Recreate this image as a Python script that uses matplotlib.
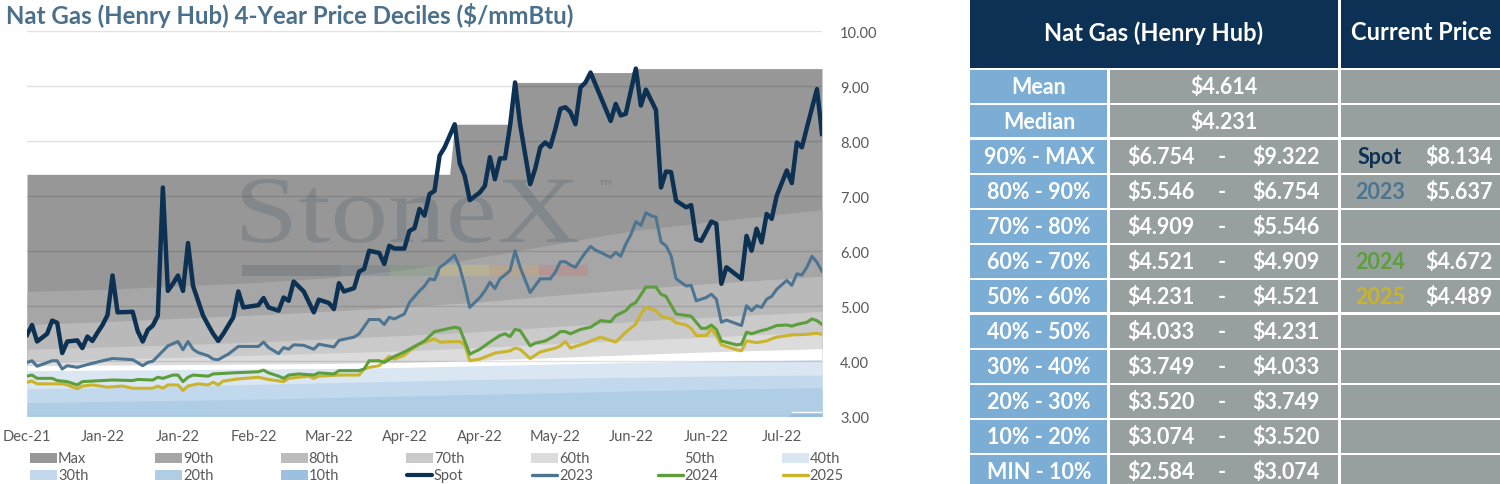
import matplotlib
matplotlib.use('Agg')
import matplotlib.pyplot as plt
from matplotlib.patches import Rectangle, PathPatch
from matplotlib.textpath import TextPath
from matplotlib.font_manager import FontProperties
from matplotlib.transforms import Affine2D
from matplotlib.lines import Line2D

plt.rcParams['font.family'] = ['Lato', 'DejaVu Sans']

# ---------------- data ----------------
TITLE = 'Nat Gas (Henry Hub) 4-Year Price Deciles ($/mmBtu)'
X_LABELS = ['Dec-21', 'Jan-22', 'Jan-22', 'Feb-22', 'Mar-22', 'Apr-22',
            'Apr-22', 'May-22', 'Jun-22', 'Jun-22', 'Jul-22']
TICK_STEP = 15
LAST_DAY = 158
Y_TICKS = [3, 4, 5, 6, 7, 8, 9, 10]

SPOT_IDX = [0, 1, 2, 4, 5, 6, 7, 8, 10, 11, 12, 13, 14, 15, 16, 17, 18, 21, 22, 23,
            24, 25, 26, 27, 28, 29, 30, 31, 32, 33, 34, 35, 36, 37, 38, 39, 40, 41, 42, 43,
            46, 47, 48, 50, 51, 52, 53, 55, 57, 58, 60, 61, 62, 63, 65, 66, 67, 68, 70, 71,
            72, 73, 75, 76, 77, 78, 79, 80, 81, 82, 83, 85, 86, 87, 88, 90, 91, 92, 93, 94,
            95, 96, 97, 98, 100, 101, 102, 103, 104, 105, 106, 107, 108, 109, 110, 111, 112,
            116, 117, 118, 119, 121, 122, 123, 125, 126, 127, 128, 129, 131, 132, 133, 134,
            136, 137, 138, 139, 142, 143, 144, 145, 146, 147, 148, 149, 151, 152, 153, 154,
            155, 156, 157, 158]
SPOT_VAL = [4.48, 4.66, 4.36, 4.50, 4.74, 4.70, 4.15, 4.36, 4.38, 4.24, 4.45, 4.37, 4.52,
            4.66, 4.84, 5.56, 4.89, 4.90, 4.55, 4.36, 4.57, 4.65, 4.83, 7.16, 5.28, 5.41,
            5.56, 5.28, 6.15, 5.37, 5.10, 4.83, 4.66, 4.50, 4.37, 4.50, 4.65, 4.80, 5.27,
            4.98, 5.02, 5.15, 4.98, 4.92, 5.16, 5.10, 5.45, 5.27, 4.89, 5.12, 5.06, 4.95,
            5.42, 5.27, 5.33, 5.63, 5.68, 6.01, 5.97, 5.77, 6.10, 6.05, 6.05, 6.37, 6.42,
            6.77, 6.65, 7.04, 7.10, 7.74, 7.89, 8.31, 7.60, 7.37, 6.93, 7.07, 7.19, 7.71,
            7.31, 7.69, 7.69, 8.28, 9.07, 8.31, 7.22, 7.50, 7.89, 7.98, 7.90, 8.22, 8.59,
            8.62, 8.53, 8.31, 8.98, 9.07, 9.25, 8.37, 8.68, 8.47, 8.50, 9.322, 8.65, 8.94,
            8.57, 7.16, 7.45, 7.44, 6.92, 6.80, 6.84, 6.22, 6.19, 6.54, 6.50, 5.41, 5.71,
            5.50, 6.28, 6.01, 6.41, 6.16, 6.68, 6.59, 7.01, 7.47, 7.24, 7.98, 7.89, 8.25,
            8.60, 8.95, 8.134]

Y2023_IDX = [0, 1, 2, 5, 6, 7, 8, 10, 12, 15, 17, 21, 23, 24, 25, 28, 30, 31, 32, 33,
             34, 36, 37, 38, 40, 42, 46, 47, 48, 50, 51, 52, 53, 55, 57, 58, 61, 62, 65, 66,
             68, 70, 71, 72, 73, 75, 76, 78, 79, 80, 81, 82, 83, 85, 86, 87, 88, 90, 91, 92,
             93, 94, 95, 96, 97, 98, 100, 102, 104, 105, 106, 107, 108, 109, 110, 111, 112,
             113, 114, 116, 117, 118, 119, 120, 121, 122, 123, 124, 125, 126, 127, 128, 129,
             131, 132, 133, 135, 136, 137, 138, 139, 142, 143, 144, 145, 146, 147, 148, 149,
             151, 152, 153, 154, 155, 156, 157, 158]
Y2023_VAL = [3.98, 4.01, 3.91, 4.01, 4.01, 3.86, 3.92, 3.89, 3.94, 4.01, 4.05, 4.03, 3.92,
             3.98, 4.00, 4.28, 4.36, 4.21, 4.36, 4.22, 4.16, 4.10, 4.04, 4.03, 4.13, 4.27,
             4.27, 4.35, 4.25, 4.14, 4.25, 4.22, 4.30, 4.29, 4.22, 4.31, 4.26, 4.38, 4.44,
             4.50, 4.76, 4.76, 4.67, 4.80, 4.77, 4.86, 5.07, 5.28, 5.37, 5.50, 5.48, 5.71,
             5.77, 5.93, 5.71, 5.37, 4.98, 5.16, 5.28, 5.44, 5.32, 5.50, 5.57, 5.65, 6.01,
             5.71, 5.25, 5.50, 5.50, 5.62, 5.81, 5.81, 5.75, 5.71, 5.85, 5.98, 6.09, 6.02,
             5.98, 5.89, 5.98, 5.91, 6.13, 6.30, 6.54, 6.47, 6.70, 6.65, 6.62, 6.17, 6.10,
             5.92, 5.50, 5.37, 5.38, 5.10, 5.16, 5.22, 5.13, 4.71, 4.75, 4.65, 5.01, 4.92,
             5.01, 4.98, 5.13, 5.18, 5.31, 5.47, 5.38, 5.59, 5.57, 5.71, 5.91, 5.80, 5.637]

Y2024_IDX = [0, 1, 2, 5, 6, 8, 10, 11, 15, 17, 21, 22, 25, 26, 27, 29, 30, 31, 32, 33,
             36, 37, 41, 46, 47, 48, 50, 51, 52, 54, 57, 58, 61, 62, 66, 67, 68, 70, 71, 73,
             75, 76, 79, 81, 85, 86, 88, 90, 92, 94, 95, 96, 97, 98, 100, 101, 103, 105, 106,
             107, 108, 110, 112, 113, 114, 116, 117, 119, 120, 121, 123, 125, 126, 127, 129,
             132, 134, 135, 136, 137, 138, 141, 142, 143, 144, 146, 147, 149, 151, 152, 153,
             155, 156, 157, 158]
Y2024_VAL = [3.73, 3.75, 3.69, 3.69, 3.65, 3.63, 3.57, 3.63, 3.65, 3.66, 3.65, 3.67, 3.66,
             3.71, 3.69, 3.75, 3.75, 3.63, 3.71, 3.75, 3.73, 3.77, 3.79, 3.81, 3.84, 3.79,
             3.73, 3.69, 3.75, 3.77, 3.75, 3.79, 3.77, 3.83, 3.83, 3.86, 4.01, 4.01, 3.98,
             4.09, 4.17, 4.22, 4.37, 4.54, 4.62, 4.60, 4.13, 4.22, 4.35, 4.47, 4.50, 4.45,
             4.58, 4.56, 4.28, 4.33, 4.37, 4.47, 4.54, 4.54, 4.50, 4.58, 4.62, 4.68, 4.74,
             4.72, 4.83, 4.92, 5.02, 5.07, 5.35, 5.35, 5.22, 5.18, 4.86, 4.82, 4.60, 4.60,
             4.66, 4.58, 4.37, 4.30, 4.31, 4.53, 4.50, 4.56, 4.58, 4.65, 4.66, 4.64, 4.67,
             4.71, 4.77, 4.74, 4.672]

Y2025_IDX = [0, 1, 2, 7, 8, 10, 11, 13, 16, 19, 21, 25, 26, 27, 28, 30, 31, 32, 34, 36,
             37, 38, 39, 42, 46, 48, 51, 52, 56, 57, 58, 62, 66, 67, 68, 70, 71, 72, 73, 75,
             76, 78, 81, 82, 86, 87, 88, 90, 93, 96, 97, 98, 100, 102, 105, 106, 107, 108,
             111, 114, 117, 119, 121, 122, 123, 125, 126, 128, 129, 131, 132, 133, 135, 136,
             137, 138, 141, 142, 143, 145, 147, 148, 149, 152, 155, 157, 158]
Y2025_VAL = [3.62, 3.64, 3.59, 3.59, 3.57, 3.50, 3.55, 3.57, 3.53, 3.55, 3.51, 3.51, 3.55,
             3.51, 3.57, 3.57, 3.47, 3.55, 3.59, 3.57, 3.62, 3.57, 3.64, 3.68, 3.71, 3.67,
             3.63, 3.69, 3.73, 3.69, 3.73, 3.75, 3.75, 3.86, 3.89, 3.92, 4.01, 4.09, 4.04,
             4.11, 4.19, 4.31, 4.41, 4.35, 4.36, 4.30, 4.01, 4.04, 4.15, 4.19, 4.24, 4.22,
             4.05, 4.17, 4.24, 4.28, 4.36, 4.24, 4.33, 4.44, 4.35, 4.53, 4.68, 4.86, 4.98,
             4.92, 4.82, 4.77, 4.70, 4.66, 4.60, 4.47, 4.47, 4.59, 4.47, 4.30, 4.21, 4.19,
             4.37, 4.34, 4.37, 4.41, 4.44, 4.48, 4.49, 4.51, 4.489]

MAX_IDX = [0, 84, 85, 96, 97, 111, 112, 120, 121, 158]
MAX_VAL = [7.40, 7.40, 8.31, 8.31, 9.07, 9.07, 9.25, 9.25, 9.322, 9.322]
BAND_IDX = [0, 15, 30, 45, 60, 75, 90, 105, 120, 135, 150, 158]
P90 = [5.27, 5.31, 5.37, 5.43, 5.52, 5.66, 5.89, 6.13, 6.37, 6.53, 6.68, 6.754]
P80 = [4.67, 4.72, 4.78, 4.84, 4.91, 4.99, 5.08, 5.20, 5.31, 5.41, 5.50, 5.546]
P70 = [4.22, 4.26, 4.30, 4.35, 4.41, 4.47, 4.54, 4.63, 4.72, 4.80, 4.87, 4.909]
P60 = [4.01, 4.04, 4.07, 4.11, 4.15, 4.19, 4.25, 4.32, 4.38, 4.44, 4.50, 4.521]
P50 = [3.92, 3.93, 3.94, 3.95, 3.96, 3.98, 4.02, 4.07, 4.12, 4.17, 4.21, 4.231]
P40 = [3.83, 3.84, 3.85, 3.86, 3.87, 3.89, 3.92, 3.95, 3.98, 4.00, 4.02, 4.033]
P30 = [3.50, 3.52, 3.55, 3.58, 3.61, 3.64, 3.67, 3.69, 3.71, 3.73, 3.745, 3.749]
P20 = [3.25, 3.27, 3.29, 3.31, 3.34, 3.37, 3.40, 3.43, 3.46, 3.49, 3.51, 3.52]
P10_IDX = [0, 151, 152, 158]
P10_VAL = [2.90, 2.95, 3.074, 3.074]

# table
TABLE_TITLE = 'Nat Gas (Henry Hub)'
CURRENT_TITLE = 'Current Price'
ROW_LABELS = ['Mean', 'Median', '90% - MAX', '80% - 90%', '70% - 80%', '60% - 70%',
              '50% - 60%', '40% - 50%', '30% - 40%', '20% - 30%', '10% - 20%', 'MIN - 10%']
MEAN = 4.614
MEDIAN = 4.231
DECILE_LOW = [6.754, 5.546, 4.909, 4.521, 4.231, 4.033, 3.749, 3.520, 3.074, 2.584]
DECILE_HIGH = [9.322, 6.754, 5.546, 4.909, 4.521, 4.231, 4.033, 3.749, 3.520, 3.074]
CURRENT_NAMES = ['Spot', '2023', '2024', '2025']
CURRENT_VALS = [8.134, 5.637, 4.672, 4.489]
CURRENT_ROWS = [2, 3, 5, 6]

# ---------------- styles ----------------
C_SPOT = '#0d3152'
C_2023 = '#4d7592'
C_2024 = '#5c9e3b'
C_2025 = '#c9b42c'
BAND_COLORS = {'Max': '#979797', '90th': '#a6a6a6', '80th': '#b9b9b9', '70th': '#cacaca',
               '60th': '#dcdcdc', '50th': '#ffffff', '40th': '#dae6f2', '30th': '#c2d9ed',
               '20th': '#b0cde6', '10th': '#9bc0e0'}
TXT = '#595959'
HDR = '#0c3154'
BLUE = '#7badd5'
GRAY = '#98a09f'

W, H = 1500, 485
fig = plt.figure(figsize=(15, 4.85), dpi=100)
fig.patch.set_facecolor('white')

# plot area in pixels: x 27..822, y 32.3..417.3
ax = fig.add_axes([27 / W, (H - 417.3) / H, 795 / W, 385 / H])
ax.set_xlim(0, LAST_DAY)
ax.set_ylim(3, 10)

# overlay axes in pixel coordinates (y downward)
ov = fig.add_axes([0, 0, 1, 1], zorder=-1)
ov.set_xlim(0, W)
ov.set_ylim(H, 0)
ov.axis('off')
ov.patch.set_alpha(0)

BASE = 2.0
ax.fill_between(MAX_IDX, BASE, MAX_VAL, color=BAND_COLORS['Max'], lw=0, zorder=1)
for vals, key in [(P90, '90th'), (P80, '80th'), (P70, '70th'), (P60, '60th'),
                  (P50, '50th'), (P40, '40th'), (P30, '30th'), (P20, '20th')]:
    ax.fill_between(BAND_IDX, BASE, vals, color=BAND_COLORS[key], lw=0, zorder=1)
ax.fill_between(P10_IDX, BASE, P10_VAL, color=BAND_COLORS['10th'], lw=0, zorder=1)
ax.plot(P10_IDX[2:], P10_VAL[2:], color='white', lw=1.0, zorder=1.1)

# watermark (behind the lines)
fp = FontProperties(family='Liberation Serif')
tp = TextPath((0, 0), 'StoneX', size=100, prop=fp)
ext = tp.get_extents()
sx = (578 - 242) / (ext.x1 - ext.x0)
sy = (243 - 180) / ext.y1
tr = Affine2D().translate(-ext.x0, 0).scale(sx, -sy).translate(242, 243)
ax.add_patch(PathPatch(tp, transform=tr + ov.transData, facecolor='#5f6d7a',
                       edgecolor='none', alpha=0.38, zorder=2, clip_on=False))
ax.text(596, 188, '\u2122', transform=ov.transData, fontsize=13, color='#7d8388',
        va='center', ha='left', zorder=2, family='DejaVu Sans')
bar_cols = ['#4d5a66', '#4d5a66', '#607384', '#6f9a6a', '#e6d36a', '#e9a45c', '#d26a6a']
seg_w = (588 - 242) / len(bar_cols)
for k, c in enumerate(bar_cols):
    ax.add_patch(Rectangle((242 + k * seg_w, 266), seg_w, 11, transform=ov.transData,
                           facecolor=c, edgecolor='none', alpha=0.28, zorder=2,
                           clip_on=False))

# grid
ax.set_axisbelow(False)
ax.grid(axis='y', color='black', alpha=0.12, lw=1.0)
ax.grid(axis='x', visible=False)

# lines
ax.plot(Y2025_IDX, Y2025_VAL, color=C_2025, lw=2.2, zorder=4, solid_joinstyle='round')
ax.plot(Y2024_IDX, Y2024_VAL, color=C_2024, lw=2.2, zorder=4.1, solid_joinstyle='round')
ax.plot(Y2023_IDX, Y2023_VAL, color=C_2023, lw=2.2, zorder=4.2, solid_joinstyle='round')
ax.plot(SPOT_IDX, SPOT_VAL, color=C_SPOT, lw=3.2, zorder=5, solid_joinstyle='round')

for s in ax.spines.values():
    s.set_visible(False)
ax.yaxis.tick_right()
ax.set_yticks(Y_TICKS)
ax.set_yticklabels([f'{v:.2f}' for v in Y_TICKS])
ax.set_xticks(list(range(0, LAST_DAY, TICK_STEP))[:len(X_LABELS)])
ax.set_xticklabels(X_LABELS)
ax.tick_params(axis='y', length=0, pad=13, labelsize=10.5, labelcolor=TXT)
ax.tick_params(axis='x', length=0, pad=9, labelsize=10.5, labelcolor=TXT)
ax.patch.set_alpha(0)

# title
ov.text(6, 16, TITLE, fontsize=17.3, fontweight='bold', color='#4a708b',
        va='center', ha='left')

# legend (manual, row-major)
legend_items = [('Max', 'patch', BAND_COLORS['Max']), ('90th', 'patch', BAND_COLORS['90th']),
                ('80th', 'patch', '#bcbcbc'), ('70th', 'patch', BAND_COLORS['70th']),
                ('60th', 'patch', BAND_COLORS['60th']), ('50th', 'patch', BAND_COLORS['50th']),
                ('40th', 'patch', BAND_COLORS['40th']), ('30th', 'patch', BAND_COLORS['30th']),
                ('20th', 'patch', BAND_COLORS['20th']), ('10th', 'patch', BAND_COLORS['10th']),
                ('Spot', 'line', C_SPOT), ('2023', 'line', C_2023),
                ('2024', 'line', C_2024), ('2025', 'line', C_2025)]
for n, (lab, kind, col) in enumerate(legend_items):
    r, c = divmod(n, 7)
    x0 = 30 + 125.3 * c
    y0 = 459 + 17 * r
    if kind == 'patch':
        ov.add_patch(Rectangle((x0, y0 - 5), 27, 10, facecolor=col, edgecolor='none'))
    else:
        ov.add_line(Line2D([x0 + 1, x0 + 26], [y0, y0], color=col,
                           lw=3.0 if lab == 'Spot' else 2.4, solid_capstyle='round'))
    ov.text(x0 + 28, y0, lab, fontsize=10.5, color=TXT, va='center', ha='left')

# table
ov.add_patch(Rectangle((970, 0), 368, 68.5, facecolor=HDR, edgecolor='none'))
ov.add_patch(Rectangle((1341, 0), 159, 68.5, facecolor=HDR, edgecolor='none'))
ov.text(1154, 33, TABLE_TITLE, fontsize=17, fontweight='bold', color='white',
        ha='center', va='center')
ov.text(1421, 33, CURRENT_TITLE, fontsize=17, fontweight='bold', color='white',
        ha='center', va='center')
ov.add_patch(Rectangle((970, 70.5), 137, H - 70.5, facecolor=BLUE, edgecolor='none'))
ov.add_patch(Rectangle((1109.5, 70.5), 228.5, H - 70.5, facecolor=GRAY, edgecolor='none'))
ov.add_patch(Rectangle((1341, 70.5), 159, H - 70.5, facecolor=GRAY, edgecolor='none'))
for k in range(1, len(ROW_LABELS)):
    yb = 69.5 + 35 * k
    th = 3.6 if k in (2, 7) else 2.0
    ov.add_patch(Rectangle((965, yb - th / 2), 540, th, facecolor='white', edgecolor='none'))

FS = 15.5
for k, lab in enumerate(ROW_LABELS):
    yc = 87.5 + 35 * k
    ov.text(1039, yc, lab, fontsize=FS, fontweight='bold', color='white',
            ha='center', va='center')
    if k == 0:
        ov.text(1224, yc, f'${MEAN:.3f}', fontsize=FS, fontweight='bold', color='white',
                ha='center', va='center')
    elif k == 1:
        ov.text(1224, yc, f'${MEDIAN:.3f}', fontsize=FS, fontweight='bold', color='white',
                ha='center', va='center')
    else:
        ov.text(1161, yc, f'${DECILE_LOW[k - 2]:.3f}', fontsize=FS, fontweight='bold',
                color='white', ha='center', va='center')
        ov.text(1222, yc, '-', fontsize=FS, fontweight='bold', color='white',
                ha='center', va='center')
        ov.text(1286, yc, f'${DECILE_HIGH[k - 2]:.3f}', fontsize=FS, fontweight='bold',
                color='white', ha='center', va='center')

name_cols = [C_SPOT, C_2023, C_2024, C_2025]
for name, val, row, col in zip(CURRENT_NAMES, CURRENT_VALS, CURRENT_ROWS, name_cols):
    yc = 87.5 + 35 * row
    ov.text(1380, yc, name, fontsize=FS, fontweight='bold', color=col,
            ha='center', va='center')
    ov.text(1459, yc, f'${val:.3f}', fontsize=FS, fontweight='bold', color='white',
            ha='center', va='center')

fig.savefig('out.png', dpi=100, facecolor='white')
